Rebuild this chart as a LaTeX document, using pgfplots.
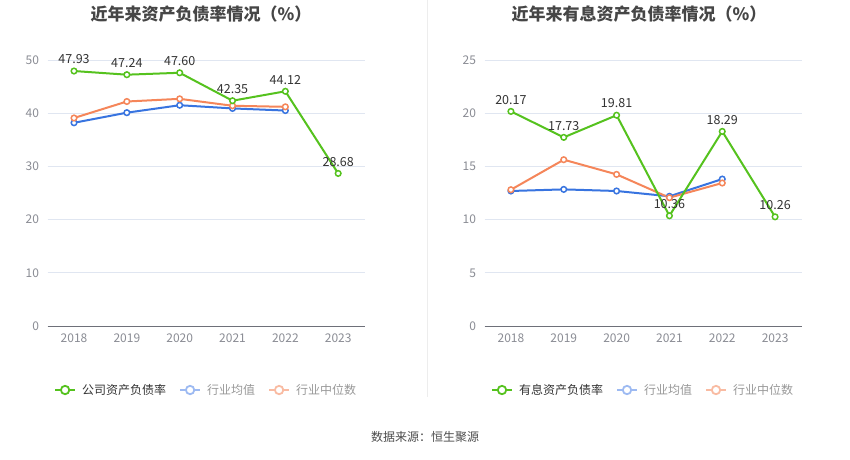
\documentclass[border=0pt]{standalone}
\usepackage{pgfplots}
\pgfplotsset{compat=1.18}
\usepackage{fontspec}
\setmainfont{Noto Sans CJK SC}
\definecolor{cgreen}{HTML}{55C21E}
\definecolor{cblue}{HTML}{3874E0}
\definecolor{corange}{HTML}{F5865A}
\definecolor{lblue}{HTML}{9DBAF2}
\definecolor{lorange}{HTML}{F9BBA2}
\definecolor{tickgray}{HTML}{8A8C94}
\definecolor{axisgray}{HTML}{6E7079}
\definecolor{gridc}{HTML}{E0E6F1}
\definecolor{labc}{HTML}{333333}
\definecolor{titc}{HTML}{464646}
\definecolor{legdark}{HTML}{333333}
\definecolor{leggray}{HTML}{999999}
\pgfplotsset{
  mystyle/.style={
    scale only axis, width=317pt, height=266pt,
    xmin=-0.5, xmax=5.5, ymin=0,
    xtick={0,1,2,3,4,5}, xticklabels={2018,2019,2020,2021,2022,2023},
    axis x line*=bottom, axis y line*=left,
    x axis line style={-, draw=axisgray, line width=0.8pt},
    y axis line style={draw=none},
    major tick length=0pt,
    ymajorgrids, grid style={draw=gridc, line width=0.8pt},
    tick label style={color=tickgray, font=\fontsize{12}{14}\selectfont},
    xticklabel style={yshift=-4pt},
    yticklabel style={xshift=-5pt},
    /pgf/number format/assume math mode=true,
    clip=false,
    legend style={at={(0.5,-0.2406)}, anchor=center, draw=none, fill=none,
      legend columns=3, font=\fontsize{12}{14}\selectfont,
      /tikz/every odd column/.append style={column sep=4pt},
      /tikz/every even column/.append style={column sep=11pt}},
    legend image code/.code={
      \draw[##1, line width=2pt] (0pt,0pt) -- (20pt,0pt);
      \draw[##1, line width=1.8pt, fill=white] (10pt,0pt) circle (4.2pt);},
  },
  ser/.style={line width=2pt, mark=*, mark size=2.8pt,
    mark options={fill=white, line width=1.5pt}},
  lab/.style={nodes near coords={\pgfmathprintnumber[fixed,fixed zerofill,precision=2,assume math mode=true]{\pgfplotspointmeta}},
    nodes near coords style={color=labc, font=\fontsize{12.5}{14}\selectfont, anchor=south, yshift=3pt}},
}
\begin{document}
\begin{tikzpicture}
\useasboundingbox (0,0) rectangle (850pt,-459pt);
\fill[white] (0,0) rectangle (850pt,-459pt);
\draw[draw=black!7, line width=0.8pt] (427pt,0pt) -- (427pt,-397pt);
\node[font=\fontsize{17}{20}\selectfont\bfseries, color=titc] at (201pt,-14pt) {近年来资产负债率情况（\%）};
\node[font=\fontsize{17}{20}\selectfont\bfseries, color=titc] at (639pt,-14pt) {近年来有息资产负债率情况（\%）};
\node[font=\fontsize{12}{14}\selectfont, color=black!70] at (425pt,-437pt) {数据来源：恒生聚源};

\begin{axis}[mystyle, at={(47.6pt,-326pt)}, anchor=south west, ymax=50, ytick={0,10,20,30,40,50}]
\addlegendimage{draw=cgreen}
\addlegendentry{\textcolor{legdark}{公司资产负债率}}
\addlegendimage{draw=lblue}
\addlegendentry{\textcolor{leggray}{行业均值}}
\addlegendimage{draw=lorange}
\addlegendentry{\textcolor{leggray}{行业中位数}}
\addplot[ser, color=cblue, forget plot] coordinates {(0,38.2) (1,40.1) (2,41.5) (3,40.9) (4,40.5)};
\addplot[ser, color=corange, forget plot] coordinates {(0,39.1) (1,42.2) (2,42.7) (3,41.4) (4,41.2)};
\addplot[ser, lab, color=cgreen, forget plot] coordinates {(0,47.93) (1,47.24) (2,47.60) (3,42.35) (4,44.12) (5,28.68)};
\end{axis}

\begin{axis}[mystyle, at={(484.5pt,-326pt)}, anchor=south west, ymax=25, ytick={0,5,10,15,20,25}]
\addlegendimage{draw=cgreen}
\addlegendentry{\textcolor{legdark}{有息资产负债率}}
\addlegendimage{draw=lblue}
\addlegendentry{\textcolor{leggray}{行业均值}}
\addlegendimage{draw=lorange}
\addlegendentry{\textcolor{leggray}{行业中位数}}
\addplot[ser, color=cblue, forget plot] coordinates {(0,12.69) (1,12.84) (2,12.69) (3,12.19) (4,13.81)};
\addplot[ser, color=corange, forget plot] coordinates {(0,12.81) (1,15.63) (2,14.25) (3,12.06) (4,13.44)};
\addplot[ser, lab, color=cgreen, forget plot] coordinates {(0,20.17) (1,17.73) (2,19.81) (3,10.36) (4,18.29) (5,10.26)};
\end{axis}
\end{tikzpicture}
\end{document}
